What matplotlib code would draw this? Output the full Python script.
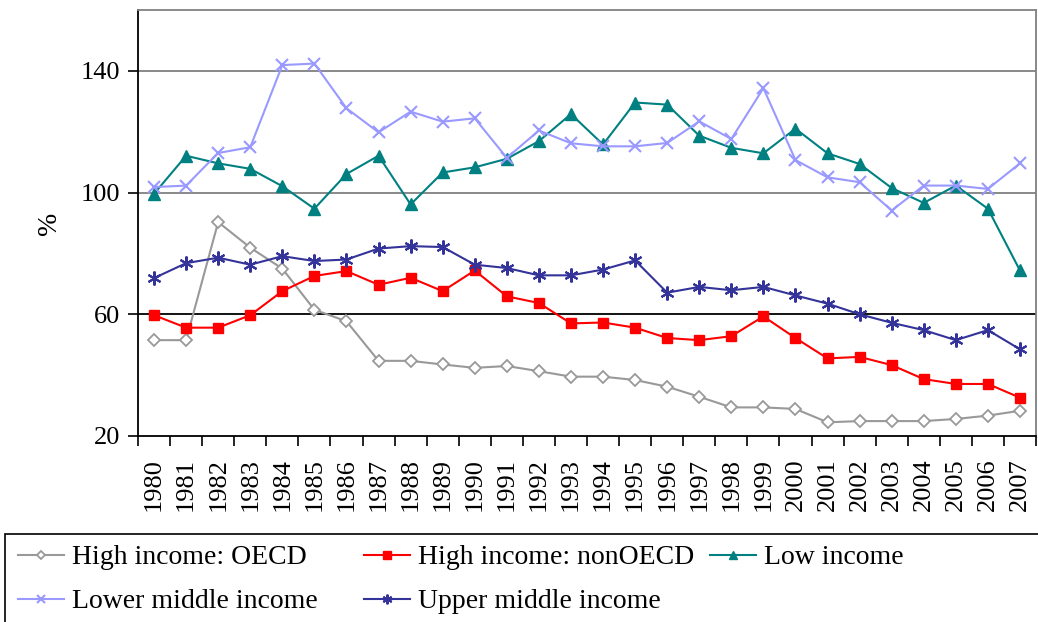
import numpy as np
import matplotlib
matplotlib.use("Agg")
import matplotlib.pyplot as plt
from matplotlib.patches import Rectangle

plt.rcParams['font.family'] = ['Liberation Serif', 'DejaVu Serif']

years = [str(y) for y in range(1980, 2008)]

oecd = [51.5, 51.5, 90.3, 81.9, 75.0, 61.5, 57.7, 44.7, 44.7, 43.5,
        42.4, 43.0, 41.3, 39.5, 39.5, 38.4, 36.2, 32.9, 29.4, 29.4,
        28.9, 24.5, 24.9, 24.9, 24.9, 25.6, 26.7, 28.3]
non_oecd = [59.7, 55.6, 55.6, 59.7, 67.6, 72.6, 74.2, 69.7, 72.0, 67.6,
            74.4, 65.9, 63.7, 57.0, 57.3, 55.6, 52.2, 51.5, 52.8, 59.3,
            52.2, 45.5, 46.0, 43.3, 38.7, 37.1, 37.1, 32.6]
low = [99.6, 112.1, 109.6, 107.8, 102.1, 94.7, 106.1, 112.1, 96.1, 106.6,
       108.3, 111.1, 116.9, 125.8, 115.8, 129.6, 128.9, 118.7, 114.7, 112.9,
       121.0, 112.9, 109.4, 101.5, 96.6, 102.3, 94.7, 74.4]
lower_mid = [101.8, 102.3, 113.0, 114.9, 141.9, 142.4, 127.7, 119.8, 126.6, 123.3,
             124.4, 111.4, 120.4, 116.2, 115.2, 115.2, 116.3, 123.4, 117.6, 134.3,
             110.7, 105.0, 103.4, 94.1, 102.3, 102.3, 101.2, 109.6]
upper_mid = [71.9, 76.8, 78.6, 76.3, 79.1, 77.5, 78.0, 81.6, 82.4, 82.1,
             76.3, 75.2, 72.8, 72.8, 74.7, 77.7, 67.1, 69.0, 67.9, 69.0,
             66.2, 63.5, 60.0, 57.2, 54.8, 51.5, 54.8, 48.5]

x = np.arange(len(years))

fig = plt.figure(figsize=(10.38, 6.22), dpi=100)
ax = fig.add_axes([138/1038, 1-436/622, (1036-138)/1038, (436-10)/622])

# grid lines
for v, c in [(60, 'black'), (100, '#808080'), (140, '#808080')]:
    ax.axhline(v, color=c, lw=1.3, zorder=1)

l1, = ax.plot(x, oecd, '-', color='#999999', lw=1.5, marker='D', ms=6,
              mfc='white', mec='#999999', mew=1.3, label='High income: OECD', zorder=3)
l2, = ax.plot(x, non_oecd, '-', color='#FF0000', lw=1.5, marker='s', ms=7.5,
              label='High income: nonOECD', zorder=3)
l3, = ax.plot(x, low, '-', color='#008080', lw=1.5, marker='^', ms=8,
              label='Low income', zorder=3)
l4, = ax.plot(x, lower_mid, '-', color='#9999FF', lw=1.5, marker='x', ms=9, mew=1.5,
              label='Lower middle income', zorder=3)
l5, = ax.plot(x, upper_mid, '-', color='#333399', lw=1.5, marker=(6, 2, 0), ms=10, mew=1.5,
              label='Upper middle income', zorder=3)

ax.set_xlim(-0.5, len(years) - 0.5)
ax.set_ylim(20, 160)
ax.set_yticks([20, 60, 100, 140])
ax.tick_params(axis='y', labelsize=19, length=7, width=1.2, pad=6)

ax.set_xticks(np.arange(len(years) + 1) - 0.5)
ax.set_xticklabels([])
ax.set_xticks(x, minor=True)
ax.set_xticklabels(years, minor=True, rotation=90, fontsize=19)
ax.tick_params(axis='x', which='major', length=7, width=1.2)
ax.tick_params(axis='x', which='minor', length=0, pad=16)

ax.spines['left'].set_linewidth(1.3)
ax.spines['bottom'].set_linewidth(1.3)
for s in ['top', 'right']:
    ax.spines[s].set_color('#808080')
    ax.spines[s].set_linewidth(1.3)

ax.set_ylabel('%', fontsize=20)
ax.yaxis.set_label_coords(-0.085, 0.5)

# legend box running off the bottom/right
fig.patches.append(Rectangle((5/1038, -0.2), 1.2, 0.2 + 1 - 534/622,
                             transform=fig.transFigure, fill=False,
                             edgecolor='black', lw=1.2))

# three legend columns at fixed positions
cols = [([l1, l4], 18), ([l2, l5], 364), ([l3], 710)]
for hs, px in cols:
    fig.legend(hs, [h.get_label() for h in hs], loc='upper left',
               bbox_to_anchor=(px/1038, 1-545/622), borderaxespad=0, borderpad=0,
               frameon=False, fontsize=20, handlelength=1.65, handletextpad=0.3,
               labelspacing=0.66, markerscale=0.7)

fig.savefig('out.png', dpi=100)
